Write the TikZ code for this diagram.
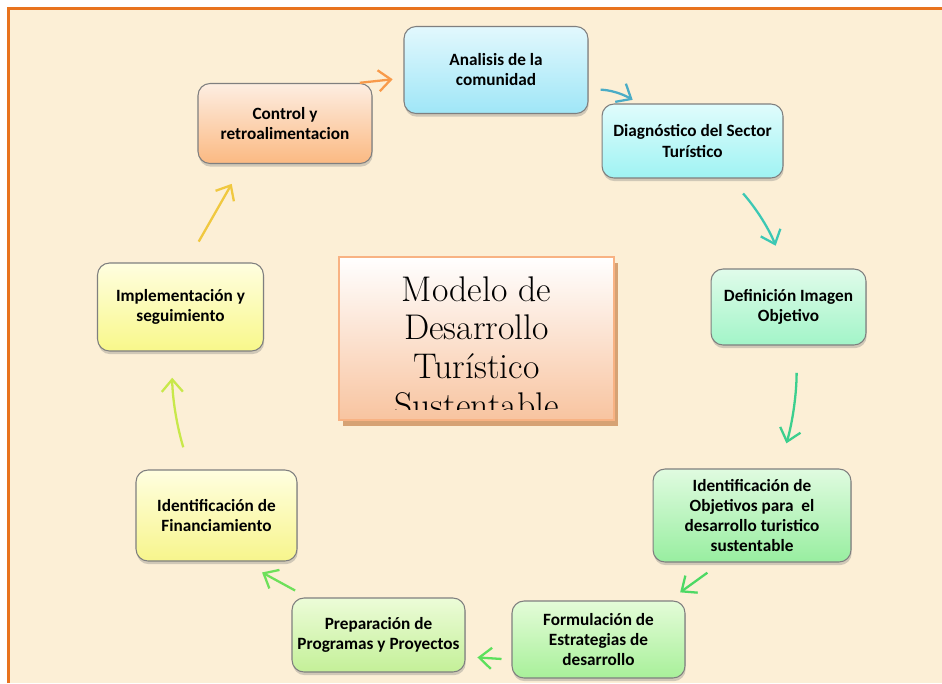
\documentclass[tikz,border=0pt]{standalone}
\usepackage{fontspec}
\newfontfamily\carlito{Carlito}
\usepackage{xcolor}
\usepackage{tikz}
\usetikzlibrary{arrows.meta,shadows}

\definecolor{fondo}{HTML}{FCEFD6}
\definecolor{marco}{HTML}{E8731E}
\definecolor{borde}{HTML}{7F7F7F}
% colores de los pasos (arriba / abajo)
\definecolor{anaTop}{HTML}{E2F8FD}  \definecolor{anaBot}{HTML}{9FE6F7}
\definecolor{diagTop}{HTML}{E0FCFC} \definecolor{diagBot}{HTML}{9FF3F3}
\definecolor{defiTop}{HTML}{E0FBEA} \definecolor{defiBot}{HTML}{A2F5C8}
\definecolor{objTop}{HTML}{E0FBE0}  \definecolor{objBot}{HTML}{98EEA0}
\definecolor{formTop}{HTML}{E4FCD8} \definecolor{formBot}{HTML}{A8F09A}
\definecolor{prepTop}{HTML}{ECFCD8} \definecolor{prepBot}{HTML}{C4F098}
\definecolor{finTop}{HTML}{FFFEE0}  \definecolor{finBot}{HTML}{F7F58C}
\definecolor{implTop}{HTML}{FFFEE0} \definecolor{implBot}{HTML}{F8F88A}
\definecolor{ctrlTop}{HTML}{FDEEE2} \definecolor{ctrlBot}{HTML}{FBB982}
% caja central
\definecolor{titBorde}{HTML}{F8B283}
\definecolor{titBot}{HTML}{F8C4A0}
\definecolor{titSombra}{HTML}{D6A274}
% flechas
\definecolor{flUno}{HTML}{F89A4A}
\definecolor{flDos}{HTML}{4BACC6}
\definecolor{flTres}{HTML}{3CC8B4}
\definecolor{flCuatro}{HTML}{3CCF8E}
\definecolor{flCinco}{HTML}{4CD964}
\definecolor{flSeis}{HTML}{5CE05C}
\definecolor{flSiete}{HTML}{6EE05A}
\definecolor{flOcho}{HTML}{C8E84A}
\definecolor{flNueve}{HTML}{F0C840}

\begin{document}
\begin{tikzpicture}[x=0.02cm, y=0.02cm,
		paso/.style={draw=borde, line width=0.6pt, rounded corners=0.24cm, align=center, inner sep=2pt,
			font=\carlito\bfseries\fontsize{9.8}{11.4}\selectfont,
			drop shadow={opacity=0.35, shadow xshift=0.4pt, shadow yshift=-1.8pt}},
		modelo/.style={draw=titBorde, line width=1.4pt, top color=white, bottom color=titBot,
			minimum width=5.5cm, minimum height=3.26cm,
			drop shadow={fill=titSombra, opacity=1, shadow xshift=2.3pt, shadow yshift=-3.4pt}},
		titulo/.style={align=center, inner sep=0pt, font=\fontsize{20.3}{22}\selectfont},
		arr/.style={-{Straight Barb[length=7pt, width=12pt]}, line width=1.3pt}
		]
		
		% ==========================================
		% FONDO
		% ==========================================
		\useasboundingbox (0,0) rectangle (942,-683);
		\fill[white] (0,0) rectangle (942,-683);
		\fill[fondo] (8.5,-8.5) rectangle (942,-683);
		\draw[marco, line width=1.7pt] (8.5,-683) -- (8.5,-8.5) -- (942,-8.5);
		
		% ==========================================
		% CAJA CENTRAL
		% ==========================================
		\node[modelo] (caja) at (476.5,-338.5) {};
		\begin{scope}
			\clip (341,-259) rectangle (612,-409);
			\node[titulo, anchor=north] (titulo) at (476.5,-276) {Modelo de\\Desarrollo\\Turístico\\Sustentable};
		\end{scope}
		
		% ==========================================
		% PASOS
		% ==========================================
		\node[paso, top color=anaTop, bottom color=anaBot, minimum width=3.68cm, minimum height=1.74cm] (ana) at (496,-70) {Analisis de la\\comunidad};
		\node[paso, top color=diagTop, bottom color=diagBot, minimum width=3.62cm, minimum height=1.48cm] (diag) at (692.5,-141) {Diagnóstico del Sector\\Turístico};
		\node[paso, top color=defiTop, bottom color=defiBot, minimum width=3.1cm, minimum height=1.52cm] (defi) at (788.5,-307) {Definición Imagen\\Objetivo};
		\node[paso, top color=objTop, bottom color=objBot, minimum width=3.96cm, minimum height=1.86cm] (obj) at (752,-515.5) {Identificación de\\Objetivos para \ el\\desarrollo turistico\\sustentable};
		\node[paso, top color=formTop, bottom color=formBot, minimum width=3.46cm, minimum height=1.54cm] (form) at (598.5,-639.5) {Formulación de\\Estrategias de\\desarrollo};
		\node[paso, top color=prepTop, bottom color=prepBot, minimum width=3.46cm, minimum height=1.48cm] (prep) at (378.5,-635) {Preparación de\\Programas y Proyectos};
		\node[paso, top color=finTop, bottom color=finBot, minimum width=3.22cm, minimum height=1.82cm] (fin) at (216.5,-515.5) {Identificación de\\Financiamiento};
		\node[paso, top color=implTop, bottom color=implBot, minimum width=3.32cm, minimum height=1.76cm] (impl) at (180.5,-307) {Implementación y\\seguimiento};
		\node[paso, top color=ctrlTop, bottom color=ctrlBot, minimum width=3.48cm, minimum height=1.6cm] (ctrl) at (285,-123.5) {Control y\\retroalimentacion};
		
		% ==========================================
		% FLECHAS DEL CICLO
		% ==========================================
		\draw[arr, flUno, shorten <=1pt, shorten >=6.2pt] (ctrl.29) -- (ana.185);
		\draw[arr, flDos, shorten <=6.9pt, shorten >=4.1pt] (ana.-12) to[bend left=15] (diag.145);
		\draw[arr, flTres, shorten <=11.3pt, shorten >=13.9pt] (diag.-45) to[bend left=10] (defi.96);
		\draw[arr, flCuatro, shorten <=15.5pt, shorten >=14.9pt] (defi.-78) to[bend left=8] (obj.60);
		\draw[arr, flCinco, shorten <=9.9pt, shorten >=7.9pt] (obj.-123) -- (form.29.5);
		\draw[arr, flSeis, shorten <=5.7pt, shorten >=6.8pt] (form.193) -- (prep.-14);
		\draw[arr, flSiete, shorten <=8.3pt, shorten >=13pt] (prep.152) -- (fin.-61);
		\draw[arr, flOcho, shorten <=13.2pt, shorten >=14.9pt] (fin.120) to[bend left=8] (impl.-101);
		\draw[arr, flNueve, shorten <=13.7pt, shorten >=13pt] (impl.82) -- (ctrl.224);
		
	\end{tikzpicture}
\end{document}
